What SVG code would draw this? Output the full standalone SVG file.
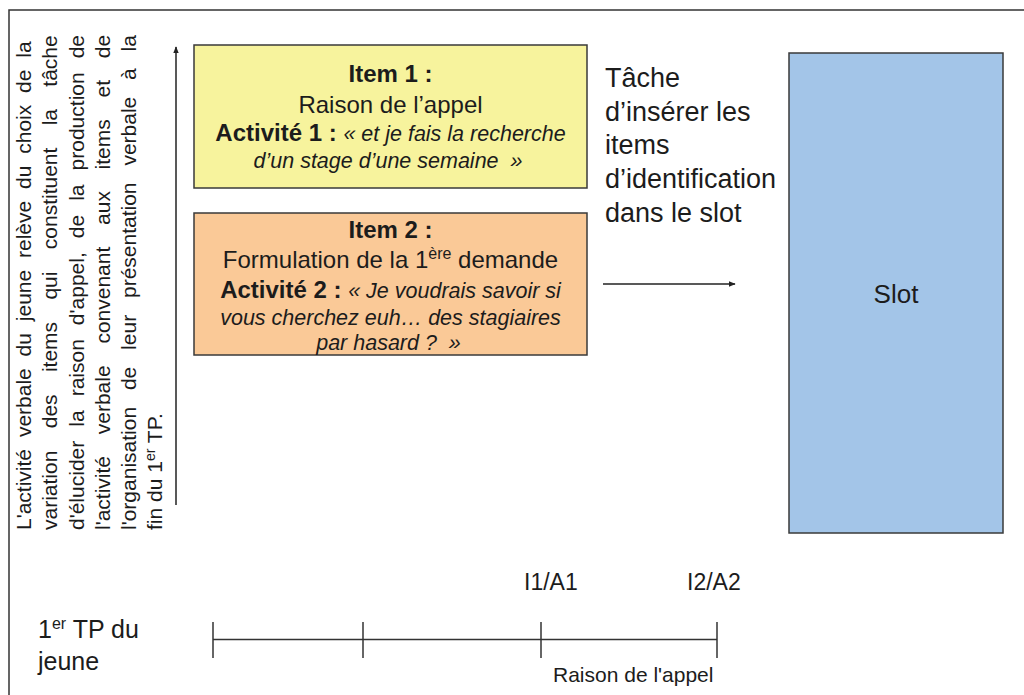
<svg xmlns="http://www.w3.org/2000/svg" width="1024" height="695" viewBox="0 0 1024 695">
  <defs>
    <marker id="ah" viewBox="0 0 10 10" refX="9" refY="5" markerWidth="7" markerHeight="7" markerUnits="userSpaceOnUse" orient="auto">
      <path d="M0,1 L10,5 L0,9 z" fill="#222"/>
    </marker>
    <style>
      text { font-family: "Liberation Sans", Arial, sans-serif; fill: #1c1c1c; }
      .box { stroke: #3a3a3a; stroke-width: 1.5; }
      .b { font-weight: bold; font-size: 24px; }
      .r { font-size: 24px; }
      .i { font-style: italic; font-size: 21.5px; }
      .rot { font-size: 21px; }
      .side { font-size: 27px; }
      .tl { stroke: #333; stroke-width: 1.5; fill: none; }
      .lbl { font-size: 23px; }
    </style>
  </defs>

  <rect x="0" y="0" width="1024" height="695" fill="#ffffff"/>
  <rect id="frame" x="9" y="10" width="1030" height="700" fill="none" stroke="#333" stroke-width="1.5"/>

  <g id="vertical-text">
    <g transform="rotate(-90)">
      <text class="rot" x="-530" y="31" style="word-spacing:6px">L'activité verbale du jeune relève du choix de la</text>
      <text class="rot" x="-530" y="57" style="word-spacing:16.5px">variation des items qui constituent la tâche</text>
      <text class="rot" x="-530" y="83.5" style="word-spacing:8.2px">d'élucider la raison d'appel, de la production de</text>
      <text class="rot" x="-530" y="110" style="word-spacing:15.9px">l'activité verbale convenant aux items et de</text>
      <text class="rot" x="-530" y="136" style="word-spacing:11px">l'organisation de leur présentation verbale à la</text>
      <text class="rot" x="-530" y="162">fin du 1<tspan font-size="14" dy="-7">er</tspan><tspan dy="7"> TP.</tspan></text>
    </g>
  </g>

  <g id="item1">
    <rect class="box" x="194" y="45" width="393" height="143" fill="#F7F39D"/>
    <text class="b" x="390.5" y="82" text-anchor="middle">Item 1 :</text>
    <text class="r" x="390.5" y="113" text-anchor="middle">Raison de l’appel</text>
    <text x="390.5" y="141" text-anchor="middle"><tspan class="b">Activité 1 : </tspan><tspan class="i">« et je fais la recherche</tspan></text>
    <text class="i" x="388" y="168" text-anchor="middle">d’un stage d’une semaine&#160; »</text>
  </g>

  <g id="item2">
    <rect class="box" x="194" y="213" width="393" height="142" fill="#FAC997"/>
    <text class="b" x="390.5" y="238" text-anchor="middle">Item 2 :</text>
    <text class="r" x="390.5" y="268" text-anchor="middle">Formulation de la 1<tspan font-size="16" dy="-9">ère</tspan><tspan dy="9"> demande</tspan></text>
    <text x="390.5" y="298" text-anchor="middle"><tspan class="b">Activité 2 : </tspan><tspan class="i">« Je voudrais savoir si</tspan></text>
    <text class="i" x="390.5" y="325" text-anchor="middle">vous cherchez euh… des stagiaires</text>
    <text class="i" x="388.5" y="350" text-anchor="middle">par hasard ?&#160; »</text>
  </g>

  <g id="task-label">
    <text class="side" x="605" y="87">Tâche</text>
    <text class="side" x="605" y="121">d’insérer les</text>
    <text class="side" x="605" y="154">items</text>
    <text class="side" x="605" y="188">d’identification</text>
    <text class="side" x="605" y="222">dans le slot</text>
  </g>

  <g id="slot">
    <rect class="box" x="789" y="53" width="214" height="480" fill="#A3C5E8"/>
    <text x="896" y="303" text-anchor="middle" font-size="26">Slot</text>
  </g>

  <g id="connectors">
    <line x1="176" y1="505" x2="176" y2="47" stroke="#222" stroke-width="1.5" marker-end="url(#ah)"/>
    <line x1="603" y1="284" x2="735" y2="284" stroke="#222" stroke-width="1.5" marker-end="url(#ah)"/>
  </g>

  <g id="timeline">
    <line class="tl" x1="213" y1="639.5" x2="717" y2="639.5"/>
    <line class="tl" x1="213" y1="622" x2="213" y2="658"/>
    <line class="tl" x1="363" y1="622" x2="363" y2="658"/>
    <line class="tl" x1="541" y1="622" x2="541" y2="658"/>
    <line class="tl" x1="717" y1="622" x2="717" y2="658"/>
    <text class="lbl" x="524" y="590">I1/A1</text>
    <text class="lbl" x="687" y="590">I2/A2</text>
    <text x="553" y="682" font-size="21">Raison de l'appel</text>
    <text x="38" y="638" font-size="25">1<tspan font-size="16" dy="-9">er</tspan><tspan dy="9"> TP du</tspan></text>
    <text x="38" y="670" font-size="25">jeune</text>
  </g>
</svg>
